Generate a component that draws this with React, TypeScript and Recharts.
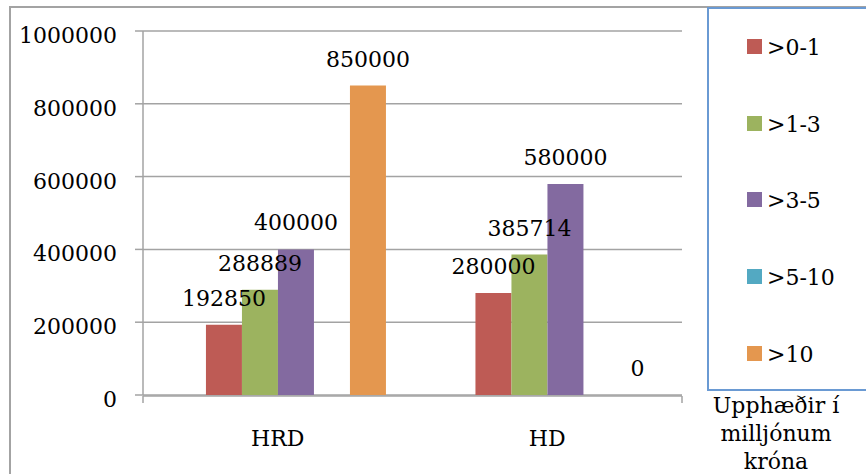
import { BarChart, Bar, XAxis, YAxis, CartesianGrid, LabelList } from 'recharts';

const categories = ['HRD', 'HD'];
const seriesNames = ['>0-1', '>1-3', '>3-5', '>5-10', '>10'];
const seriesColors = ['#BE5B55', '#9CB35F', '#836AA0', '#53A9C2', '#E4974F'];
// empty leading series: holds a slot in each group, like the original
const blankSlot: (number | null)[] = [null, null];
const values01: (number | null)[] = [192850, 280000];
const values13: (number | null)[] = [288889, 385714];
const values35: (number | null)[] = [400000, 580000];
const values510: (number | null)[] = [null, null];
const values10: (number | null)[] = [850000, 0];
const yTicks = [0, 200000, 400000, 600000, 800000, 1000000];
const edgeTicks = [0, 1, 2];
const captionLines = ['Upphæðir í', 'milljónum', 'króna'];

const seriesValues = [values01, values13, values35, values510, values10];

const data = categories.map((name, i) => {
  const row: Record<string, string | number | null> = { name, blank: blankSlot[i] };
  seriesValues.forEach((vals, s) => {
    row['s' + s] = vals[i];
  });
  return row;
});

const FONT = '"DejaVu Serif", "Liberation Serif", serif';
const GRAY = '#A3A3A3';

const YTick = (props: any) => {
  const { x, y, payload } = props;
  return (
    <text x={x} y={y + 12} textAnchor="end" fontFamily={FONT} fontSize={22} fill="#000">
      {payload.value}
    </text>
  );
};

const CatTick = (props: any) => {
  const { x, y, payload } = props;
  return (
    <text x={x} y={y + 43} textAnchor="middle" fontFamily={FONT} fontSize={22} fill="#000">
      {payload.value}
    </text>
  );
};

const renderLabel = (props: any) => {
  const { x, y, width, value } = props;
  if (value === null || value === undefined) return null;
  return (
    <text x={x + width / 2} y={y - 19} textAnchor="middle" fontFamily={FONT} fontSize={22} fill="#000">
      {value}
    </text>
  );
};

export default function App() {
  return (
    <div
      style={{
        position: 'absolute',
        left: 0,
        top: 0,
        width: 866,
        height: 474,
        overflow: 'hidden',
        background: '#fff',
        fontFamily: FONT,
      }}
    >
      {/* outer chart frame */}
      <div
        style={{
          position: 'absolute',
          left: 9,
          top: 6,
          width: 900,
          height: 500,
          border: `2px solid ${GRAY}`,
        }}
      />

      <div style={{ position: 'absolute', left: 0, top: 0 }}>
        <BarChart
          width={866}
          height={474}
          data={data}
          margin={{ top: 31, right: 184, bottom: 77, left: 0 }}
          barGap={0}
          barCategoryGap="10%"
        >
          <CartesianGrid vertical={false} stroke={GRAY} strokeWidth={1.5} />
          <XAxis
            dataKey="name"
            height={1}
            axisLine={false}
            tickLine={false}
            tick={<CatTick />}
            interval={0}
          />
          <XAxis
            xAxisId="edge"
            type="number"
            domain={[0, 2]}
            ticks={edgeTicks}
            allowDataOverflow
            height={1}
            tickSize={7}
            stroke={GRAY}
            strokeWidth={1.5}
            tickFormatter={() => ''}
          />
          <YAxis
            width={143}
            domain={[0, 1000000]}
            ticks={yTicks}
            interval={0}
            tickSize={8}
            tickMargin={18}
            stroke={GRAY}
            strokeWidth={1.5}
            tick={<YTick />}
          />
          <Bar dataKey="blank" fill="none" isAnimationActive={false} />
          {seriesNames.map((n, s) => (
            <Bar
              key={n}
              dataKey={'s' + s}
              name={n}
              fill={seriesColors[s]}
              minPointSize={0.01}
              isAnimationActive={false}
            >
              <LabelList dataKey={'s' + s} content={renderLabel} />
            </Bar>
          ))}
        </BarChart>
      </div>

      {/* legend */}
      <div
        style={{
          position: 'absolute',
          left: 707,
          top: 7,
          width: 200,
          height: 380,
          border: '2px solid #6A9AD3',
        }}
      />
      {seriesNames.map((n, s) => (
        <div
          key={n}
          style={{
            position: 'absolute',
            left: 747,
            top: 8 + s * 76.8,
            height: 76.8,
            display: 'flex',
            alignItems: 'center',
            fontSize: 22,
            color: '#000',
            whiteSpace: 'nowrap',
          }}
        >
          <span style={{ width: 15, height: 15, background: seriesColors[s], display: 'inline-block' }} />
          <span style={{ marginLeft: 5, lineHeight: '26px', paddingTop: 3 }}>{n}</span>
        </div>
      ))}
      <div
        style={{
          position: 'absolute',
          left: 676,
          top: 392,
          width: 200,
          textAlign: 'center',
          fontSize: 22,
          lineHeight: '28px',
          color: '#000',
        }}
      >
        {captionLines.map((l) => (
          <div key={l}>{l}</div>
        ))}
      </div>
    </div>
  );
}
